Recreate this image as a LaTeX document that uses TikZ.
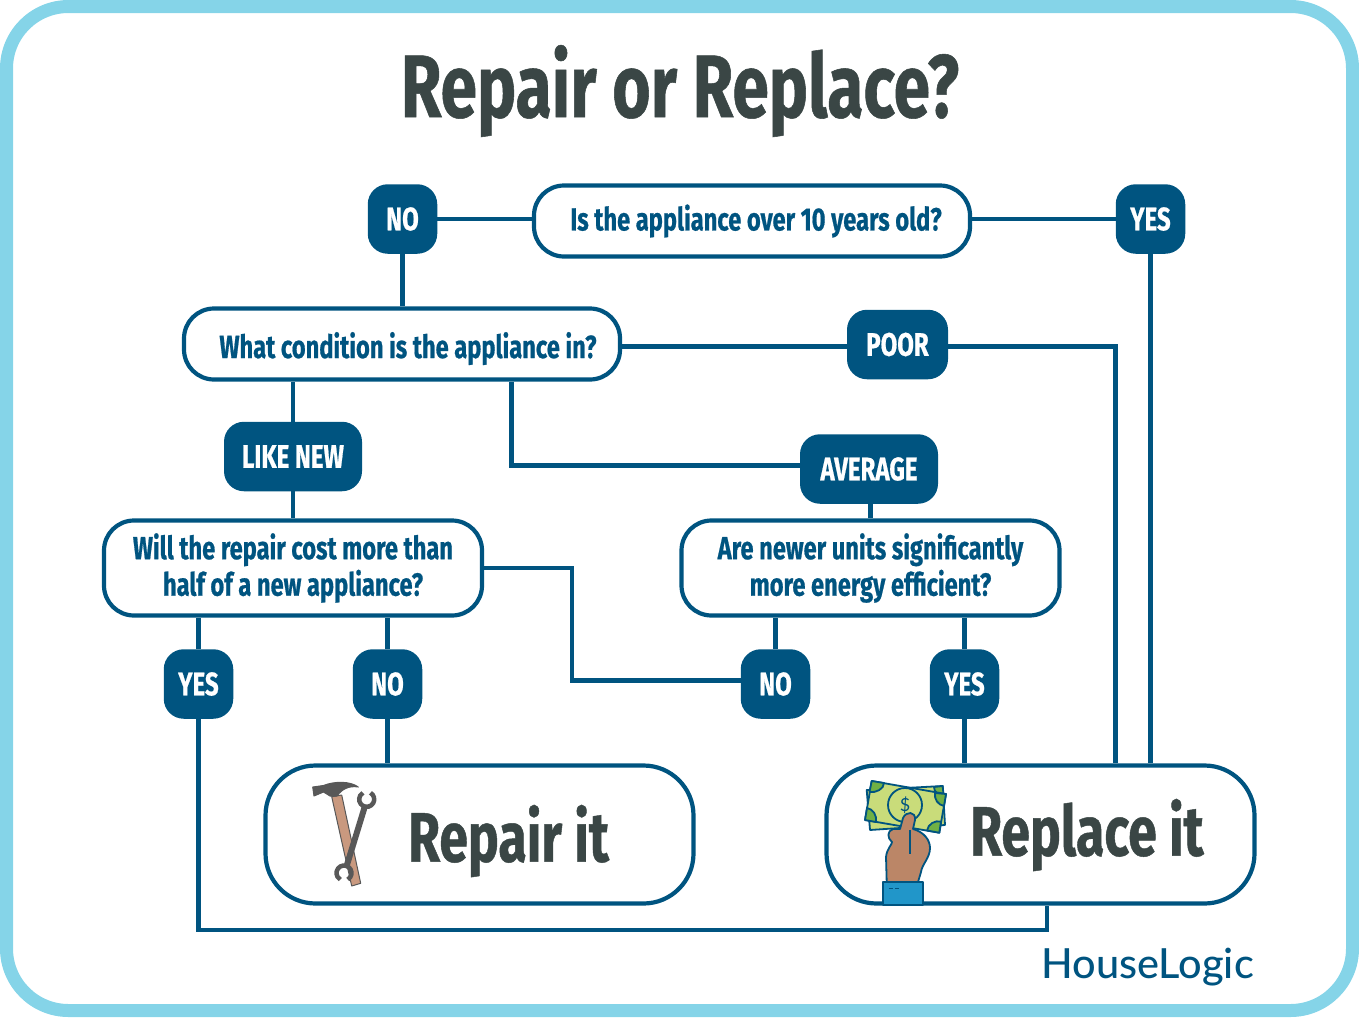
\documentclass[tikz,border=0pt]{standalone}
\usepackage{fontspec}
\newfontfamily\condfont[FakeStretch=0.74,BoldFeatures={FakeBold=0.6}]{Fira Sans}
\newfontfamily\logofont{Lato Medium}
\setmainfont{Lato}
\definecolor{framecol}{RGB}{133,212,232}
\definecolor{navy}{RGB}{0,84,128}
\definecolor{titlecol}{RGB}{58,70,69}
\definecolor{handcol}{RGB}{187,134,103}
\definecolor{handlecol}{RGB}{201,153,127}
\definecolor{steel}{RGB}{88,88,88}
\definecolor{billcol}{RGB}{201,220,122}
\definecolor{billdark}{RGB}{112,176,68}
\definecolor{cuffcol}{RGB}{33,150,201}
\tikzset{
  question/.style={draw=navy,line width=4.2pt,fill=white,rounded corners=30pt,align=center,inner sep=0pt,text=navy,font=\condfont\bfseries\fontsize{32}{36.5}\selectfont},
  answer/.style={fill=navy,rounded corners=20pt,inner sep=0pt,minimum height=69.5pt,text=white,font=\condfont\bfseries\fontsize{32.5}{36}\selectfont},
  result/.style={draw=navy,line width=4.2pt,fill=white,rounded corners=50pt,inner sep=0pt,minimum width=428pt,minimum height=138pt},
  bigtext/.style={text=titlecol,inner sep=0pt,font=\condfont\bfseries\fontsize{70}{80}\selectfont},
  link/.style={draw=navy,line width=4.2pt},
  iconline/.style={draw=navy,line width=1.8pt,line join=round}
}
\begin{document}
\begin{tikzpicture}[x=1pt,y=1pt,yscale=-1,xscale=1]
\useasboundingbox (0,0) rectangle (1359,1017);

% frame
\draw [draw=framecol,line width=13pt,rounded corners=62pt] (6.5,6.5) rectangle (1352.5,1010.5);

% Text Node
\node (title) [text=titlecol,inner sep=0pt,font=\condfont\bfseries\fontsize{89}{100}\selectfont] at (680,91) {Repair or Replace?};

% questions
\node (agebox) [question,minimum width=436pt,minimum height=71pt] at (752,221) {\hspace*{8pt}Is the appliance over 10 years old?};
\node (condbox) [question,minimum width=436pt,minimum height=71pt] at (402,344) {\hspace*{12pt}\raisebox{-14pt}[0pt][0pt]{What condition is the appliance in?}};
\node (costbox) [question,minimum width=378pt,minimum height=95pt] at (293,568) {Will the repair cost more than\\half of a new appliance?};
\node (energybox) [question,minimum width=378pt,minimum height=95pt] at (870.5,568) {Are newer units significantly\\more energy efficient?};

% answers
\node (ageno) [answer,minimum width=69.5pt] at (402.5,219) {NO};
\node (ageyes) [answer,minimum width=69.5pt] at (1150.5,219) {YES};
\node (poor) [answer,minimum width=101pt] at (897.5,344.5) {POOR};
\node (likenew) [answer,minimum width=138pt] at (293,456.5) {LIKE NEW};
\node (average) [answer,minimum width=138pt] at (869,469) {AVERAGE};
\node (costyes) [answer,minimum width=69.5pt] at (198.5,684) {YES};
\node (costno) [answer,minimum width=69.5pt] at (387.5,684) {NO};
\node (energyno) [answer,minimum width=69.5pt] at (775.5,684) {NO};
\node (energyyes) [answer,minimum width=69.5pt] at (964.5,684) {YES};

% results
\node (repair) [result] at (479.5,834.5) {};
\node (replace) [result] at (1040.5,834.5) {};
\node (repairtext) [bigtext,anchor=west] at (408,841) {Repair it};
\node (replacetext) [bigtext,anchor=west] at (970,835) {Replace it};

% connectors
\coordinate (avgcorner) at (511.5,465.5);
\coordinate (costout) at (572,568);
\coordinate (costcorner) at (572,680.5);
\coordinate (poorcorner) at (1115.5,346.5);
\coordinate (bottomleft) at (198.5,930);
\coordinate (bottomright) at (1047,930);
\draw [link] (ageno) -- (ageno -| agebox.west);
\draw [link] (ageno -| agebox.east) -- (ageno -| ageyes.west);
\draw [link] (ageno) -- (ageno |- condbox.north);
\draw [link] (ageyes) -- (ageyes |- replace.north);
\draw [link] (condbox.east |- poorcorner) -- (poorcorner -| poor.west);
\draw [link] (poor.east |- poorcorner) -- (poorcorner) -- (poorcorner |- replace.north);
\draw [link] (likenew) -- (likenew |- condbox.south);
\draw [link] (likenew) -- (costbox);
\draw [link] (avgcorner |- condbox.south) -- (avgcorner) -- (avgcorner -| average.west);
\draw [link] (energybox.north) -- (energybox.north |- average.south);
\draw [link] (costbox.east |- costout) -- (costout) -- (costcorner) -- (costcorner -| energyno.west);
\draw [link] (costyes) -- (costyes |- costbox.south);
\draw [link] (costno) -- (costno |- costbox.south);
\draw [link] (costno) -- (costno |- repair.north);
\draw [link] (energyno) -- (energyno |- energybox.south);
\draw [link] (energyyes) -- (energyyes |- energybox.south);
\draw [link] (energyyes) -- (energyyes |- replace.north);
\draw [link] (costyes.south) -- (bottomleft) -- (bottomright) -- (bottomright |- replace.south);

% hammer
\draw [fill=handlecol,draw=steel,line width=1pt,line join=round] (331.7,796.7) -- (341.7,795) -- (360.7,883.3) -- (351.7,886) -- cycle;
\draw [fill=steel,draw=steel,line width=1pt,line join=round] (312.7,787) -- (323.3,785.5) .. controls (335,781) and (350,781) .. (358.3,787) .. controls (349,785.5) and (342,789) .. (337,796) -- (330,796) -- (323.5,792) -- (314,796) -- cycle;
% wrench
\draw [steel,line width=6pt] (365,806) -- (346,868);
\draw [steel,line width=4.5pt] (370.45,792.8) arc [start angle=-60,end angle=240,radius=7.5];
\draw [steel,line width=4.5pt] (347.75,879.5) arc [start angle=60,end angle=-240,radius=7.5];

% money
\draw [iconline,fill=billcol] (866.7,790) -- (942.7,786) -- (945,825) -- (870,830) -- cycle;
\draw [iconline,fill=billdark] (934,787) -- (942.7,786) -- (943.5,795) .. controls (938,795) and (934,792) .. (934,787) -- cycle;
\draw [iconline,fill=billcol] (871.7,781) -- (946,794) -- (939.3,832.7) -- (865,820) -- cycle;
\draw [iconline,fill=billdark] (871.7,781) -- (884,783) .. controls (884,789) and (876,793) .. (869.5,792) -- cycle;
\draw [iconline,fill=billdark] (935,793) -- (946,794) -- (944,806) .. controls (938,805) and (934,799) .. (935,793) -- cycle;
\draw [iconline,fill=billdark] (865,820) -- (867,808) .. controls (873,809) and (877,815) .. (876,822) -- cycle;
\draw [iconline,fill=billdark] (939.3,832.7) -- (927,830.5) .. controls (928,824) and (935,820) .. (941,821.5) -- cycle;
\node (dollarring) [draw=navy,line width=1.8pt,circle,minimum size=34pt,inner sep=0pt,text=navy,font=\fontsize{18}{18}\selectfont] at (905,805) {\$};
% hand
\draw [iconline,fill=handcol] (886.7,882) -- (886,857) .. controls (887,848) and (892,845) .. (892,842) .. controls (887,838) and (887,831) .. (893,829) -- (900,829) -- (903,818) .. controls (906,811) and (916,811) .. (915,820) -- (913,829) .. controls (924,832) and (930,840) .. (930,848) .. controls (930,858) and (922,864) .. (921,872) -- (918,882) -- cycle;
\draw [iconline] (910,830) -- (910,854);
\draw [iconline,fill=cuffcol] (883,882) -- (922.7,882) -- (922.7,905) -- (883,905) -- cycle;
\draw [iconline,line width=1.3pt] (888.5,888.5) -- (892.5,888.5) (895,888.5) -- (899,888.5);

% logo
\node (logo) [text=navy,inner sep=0pt,anchor=east,font=\logofont\fontsize{41.5}{45}\selectfont] at (1254,967) {HouseLogic};
\end{tikzpicture}
\end{document}
